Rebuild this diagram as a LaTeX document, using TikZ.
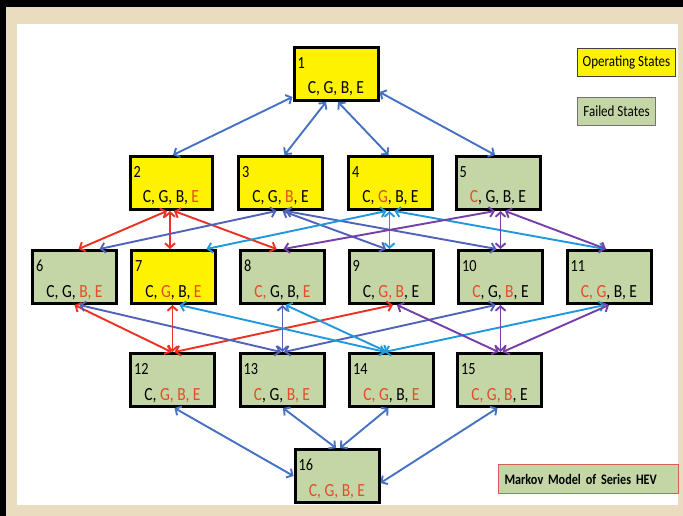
\documentclass[tikz,border=0pt]{standalone}
\usepackage{fontspec}
\setmainfont{Carlito}[FakeStretch=0.84]
\usetikzlibrary{arrows.meta,calc}

\definecolor{opyellow}{RGB}{255,242,0}
\definecolor{failgreen}{RGB}{196,214,166}
\definecolor{txtred}{RGB}{228,76,40}
\definecolor{steel}{RGB}{70,114,196}
\definecolor{lnred}{RGB}{236,48,36}
\definecolor{slate}{RGB}{80,98,186}
\definecolor{cyanln}{RGB}{32,152,222}
\definecolor{purp}{RGB}{118,62,168}
\definecolor{framebeige}{RGB}{234,220,190}
\definecolor{markovedge}{RGB}{214,96,86}

% red letters mark the failed components
\newcommand{\R}[1]{\textcolor{txtred}{#1}}

\tikzset{
  stbox/.style={draw=black, line width=3pt, minimum width=84pt, minimum height=53pt, inner sep=0pt},
  opst/.style={stbox, fill=opyellow},
  flst/.style={stbox, fill=failgreen},
  numtxt/.style={font=\fontsize{17}{19}\selectfont, anchor=north west, inner sep=0pt},
  lbltxt/.style={font=\fontsize{18.5}{20}\selectfont, anchor=base, inner sep=0pt},
  legbox/.style={line width=1pt, inner sep=0pt, font=\fontsize{15.5}{17}\selectfont},
  conn/.style={line width=1.9pt, {Straight Barb[length=4.5pt,width=10pt]}-{Straight Barb[length=4.5pt,width=10pt]}}
}

% one state of the Markov chain: name, x, y, style, number, component list
\newcommand{\hevstate}[6]{%
  \node[#4] (#1) at (#2,#3) {};
  \node[numtxt] (#1num) at ($(#1.north west)+(5,11)$) {#5};
  \node[lbltxt] (#1lbl) at ($(#1.south)+(0,-8)$) {#6};
}

\begin{document}
\begin{tikzpicture}[x=1pt, y=-1pt]
  \useasboundingbox (0,0) rectangle (683,516);
  % slide frame
  \fill[black] (0,0) rectangle (683,516);
  \fill[framebeige] (6,7) rectangle (683,516);
  \fill[white] (17,24) rectangle (678,505);

  % states
  \hevstate{n1}{336}{74}{opst}{1}{C, G, B, E}
  \hevstate{n2}{171}{183}{opst, minimum width=82pt}{2}{C, G, B, \R{E}}
  \hevstate{n3}{280.5}{183}{opst}{3}{C, G, \R{B}, E}
  \hevstate{n4}{390.5}{183}{opst}{4}{C, \R{G}, B, E}
  \hevstate{n5}{498}{183}{flst}{5}{\R{C}, G, B, E}

  \hevstate{n6}{74.5}{277}{flst}{6}{C, G, \R{B, E}}
  \hevstate{n7}{173.5}{277}{opst}{7}{C, \R{G}, B, \R{E}}
  \hevstate{n8}{282.5}{277}{flst}{8}{\R{C,} G, B, \R{E}}
  \hevstate{n9}{391}{277}{flst}{9}{C, \R{G, B}, E}
  \hevstate{n10}{500.5}{277}{flst}{10}{\R{C}, G, \R{B}, E}
  \hevstate{n11}{609}{277}{flst}{11}{\R{C, G}, B, E}

  \hevstate{n12}{172.5}{380}{flst}{12}{C, \R{G, B, E}}
  \hevstate{n13}{282}{380}{flst}{13}{\R{C}, G, \R{B, E}}
  \hevstate{n14}{391.5}{380}{flst}{14}{\R{C, G}, B, \R{E}}
  \hevstate{n15}{499.5}{380}{flst}{15}{\R{C, G, B}, E}

  \hevstate{n16}{337}{476}{flst}{16}{\R{C, G, B, E}}

  % legend
  \node[legbox, draw=black!75, fill=opyellow, minimum width=98pt, minimum height=28pt] (legop) at (626.5,62.5) {Operating States};
  \node[legbox, draw=black!55, fill=failgreen, minimum width=78pt, minimum height=28pt] (legfail) at (616.5,111.5) {Failed States};
  \node[legbox, draw=markovedge, fill=failgreen, text width=168pt, align=left, inner xsep=6pt, minimum height=29pt, font=\fontsize{14.5}{17}\selectfont\bfseries] (legtitle) at (588.5,479) {Markov Model of Series HEV};

  % transitions from the fully operating state
  \draw[conn, steel] ($(n1.south west)+(0,-5)$) -- ($(n2.north)+(2,0)$);
  \draw[conn, steel] ($(n1.south)+(-10,0)$) -- ($(n3.north)+(4,0)$);
  \draw[conn, steel] ($(n1.south)+(2,0)$) -- ($(n4.north)+(-2,0)$);
  \draw[conn, steel] ($(n1.east)+(0,18)$) -- ($(n5.north)+(-3,0)$);

  % single failures to double failures
  \draw[conn, lnred] ($(n2.south)+(-4,0)$) -- ($(n6.north)+(4,0)$);
  \draw[conn, lnred] ($(n2.south)+(-1,0)$) -- ($(n7.north)+(-3.5,0)$);
  \draw[conn, lnred] ($(n2.south)+(3,0)$) -- ($(n8.north)+(-6,0)$);

  \draw[conn, slate] ($(n3.south)+(-4,0)$) -- ($(n6.north)+(25,0)$);
  \draw[conn, slate] ($(n3.south)+(2,0)$) -- ($(n9.north)+(-5,0)$);
  \draw[conn, slate] ($(n3.south)+(5,0)$) -- ($(n10.north)+(-4,0)$);

  \draw[conn, cyanln] ($(n4.south)+(-4,0)$) -- ($(n7.north)+(33,0)$);
  \draw[conn, cyanln] ($(n4.south)+(-1,0)$) -- ($(n9.north)+(-1.5,0)$);
  \draw[conn, cyanln] ($(n4.south)+(4,0)$) -- ($(n11.north)+(-4,0)$);

  \draw[conn, purp] ($(n5.south)+(-3,0)$) -- ($(n8.north)+(1,0)$);
  \draw[conn, purp] ($(n5.south)+(2.5,0)$) -- (n10.north);
  \draw[conn, purp] ($(n5.south)+(7,0)$) -- ($(n11.north)+(-3,0)$);

  % double failures to triple failures
  \draw[conn, lnred] (n6.south) -- ($(n12.north)+(-1,0)$);
  \draw[conn, lnred] ($(n7.south)+(-1,0)$) -- (n12.north);
  \draw[conn, lnred] ($(n9.south)+(2,0)$) -- ($(n12.north)+(2,0)$);

  \draw[conn, slate] ($(n6.south)+(5,0)$) -- ($(n13.north)+(-1,0)$);
  \draw[conn, slate] (n8.south) -- ($(n13.north)+(0.5,0)$);
  \draw[conn, slate] ($(n10.south)+(-5,0)$) -- ($(n13.north)+(2,0)$);

  \draw[conn, cyanln] ($(n7.south)+(6,0)$) -- ($(n14.north)+(-6,0)$);
  \draw[conn, cyanln] ($(n8.south)+(3,0)$) -- ($(n14.north)+(-4,0)$);
  \draw[conn, cyanln] ($(n11.south)+(-4,0)$) -- ($(n14.north)+(-7,0)$);

  \draw[conn, purp] ($(n9.south)+(6,0)$) -- ($(n15.north)+(-1,0)$);
  \draw[conn, purp] (n10.south) -- ($(n15.north)+(1,0)$);
  \draw[conn, purp] (n11.south) -- ($(n15.north)+(3,0)$);

  % triple failures to total failure
  \draw[conn, steel] ($(n12.south)+(2,0)$) -- (n16.west);
  \draw[conn, steel] ($(n13.south)+(1,0)$) -- ($(n16.north)+(-1,0)$);
  \draw[conn, steel] ($(n14.south)+(-3,0)$) -- ($(n16.north)+(3,0)$);
  \draw[conn, steel] ($(n15.south)+(-2,0)$) -- ($(n16.east)+(0,7)$);
\end{tikzpicture}
\end{document}
